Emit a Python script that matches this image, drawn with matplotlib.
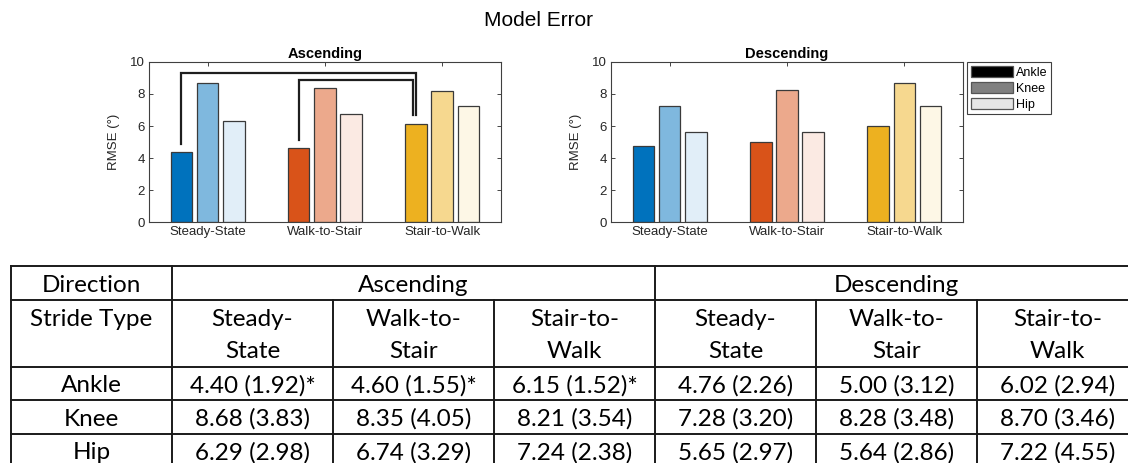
import numpy as np
import matplotlib.pyplot as plt
from matplotlib.patches import Patch

# Data
categories = ['Steady-State', 'Walk-to-Stair', 'Stair-to-Walk']
joints = ['Ankle', 'Knee', 'Hip']

asc_ankle = [4.40, 4.60, 6.15]
asc_knee = [8.68, 8.35, 8.21]
asc_hip = [6.29, 6.74, 7.24]
asc_ankle_sd = [1.92, 1.55, 1.52]
asc_knee_sd = [3.83, 4.05, 3.54]
asc_hip_sd = [2.98, 3.29, 2.38]
asc_ankle_sig = [True, True, True]

desc_ankle = [4.76, 5.00, 6.02]
desc_knee = [7.28, 8.28, 8.70]
desc_hip = [5.65, 5.64, 7.22]
desc_ankle_sd = [2.26, 3.12, 2.94]
desc_knee_sd = [3.20, 3.48, 3.46]
desc_hip_sd = [2.97, 2.86, 4.55]

# significance brackets on ascending ankle: (from category, to category, bracket height)
asc_brackets = [(0, 2, 9.3), (1, 2, 8.9)]

# colours: one row per stride type, columns ankle / knee / hip
shades = [['#0072BD', '#7FB8DE', '#E1EEF8'],
          ['#D95319', '#ECA98C', '#FBEAE3'],
          ['#EDB120', '#F6D88F', '#FDF7E6']]
legend_colors = ['#000000', '#808080', '#E6E6E6']

plt.rcParams['font.family'] = ['Liberation Sans', 'DejaVu Sans']

fig = plt.figure(figsize=(11.28, 4.63), dpi=100)

offset = 0.223
bar_w = 0.184


def bar_panel(ax, ankle, knee, hip, title):
    x = np.arange(1, len(categories) + 1)
    for j, vals in enumerate([ankle, knee, hip]):
        ax.bar(x + (j - 1) * offset, vals, width=bar_w,
               color=[shades[g][j] for g in range(len(categories))],
               edgecolor='#3a3a3a', linewidth=0.9, zorder=2)
    ax.set_xlim(0.5, 3.5)
    ax.set_ylim(0, 10)
    ax.set_xticks(x, categories)
    ax.set_yticks(range(0, 11, 2))
    ax.tick_params(direction='in', length=3, width=0.6, top=True, right=True,
                   labelsize=9.5, colors='#262626', pad=3)
    for s in ax.spines.values():
        s.set_color('#404040')
        s.set_linewidth(0.8)
    ax.set_ylabel('RMSE (°)', fontsize=9.5, color='#262626', labelpad=7)
    ax.set_title(title, fontweight='bold', fontsize=10.5, pad=3)


ax1 = fig.add_axes([0.132, 0.5205, 0.312, 0.3456])
ax2 = fig.add_axes([0.5417, 0.5205, 0.312, 0.3456])
bar_panel(ax1, asc_ankle, asc_knee, asc_hip, 'Ascending')
bar_panel(ax2, desc_ankle, desc_knee, desc_hip, 'Descending')

# significance brackets
for k, (i0, i1, top) in enumerate(asc_brackets):
    xa = i0 + 1 - offset
    xb = i1 + 1 - offset - 0.025 * k
    ax1.plot([xa, xa, xb, xb],
             [asc_ankle[i0] + 0.5, top, top, asc_ankle[i1] + 0.55],
             color='#1e1e1e', lw=1.6, solid_joinstyle='miter', zorder=3)

handles = [Patch(facecolor=c, edgecolor='#555555', linewidth=0.9) for c in legend_colors]
leg = ax2.legend(handles, joints, loc='upper left', bbox_to_anchor=(1.011, 1.0),
                 fontsize=9, handlelength=3.4, handleheight=1.0, handletextpad=0.2,
                 labelspacing=0.25, borderpad=0.3, borderaxespad=0, fancybox=False,
                 framealpha=1)
leg.get_frame().set_edgecolor('#404040')
leg.get_frame().set_linewidth(0.8)

fig.text(0.477, 0.955, 'Model Error', ha='center', va='center', fontsize=15)

# Table
tab = fig.add_axes([0, 0, 1, 1], zorder=-1)
tab.set_xlim(0, 1128)
tab.set_ylim(463, 0)
tab.axis('off')

x0 = 11
col_w = 161
n_cols = 1 + 2 * len(categories)
row_edges = [266, 300, 367, 400, 434, 467]
col_edges = [x0 + i * col_w for i in range(n_cols + 1)]
line_kw = dict(color='#1a1a1a', lw=1.4)
tfont = dict(family=['Lato', 'DejaVu Sans'], fontsize=17.5, color='black',
             ha='center', va='center')

for y in row_edges:
    tab.plot([col_edges[0], col_edges[-1]], [y, y], **line_kw)
for i, xe in enumerate(col_edges):
    y_start = row_edges[0] if i in (0, 1, 4, 7) else row_edges[1]
    tab.plot([xe, xe], [y_start, row_edges[-1]], **line_kw)


def cx(i):
    return (col_edges[i] + col_edges[i + 1]) / 2


def rc(r):
    return (row_edges[r] + row_edges[r + 1]) / 2 + 2


tab.text(cx(0), rc(0), 'Direction', **tfont)
tab.text((col_edges[1] + col_edges[4]) / 2, rc(0), 'Ascending', **tfont)
tab.text((col_edges[4] + col_edges[7]) / 2, rc(0), 'Descending', **tfont)

line1 = row_edges[1] + 19
line2 = row_edges[1] + 51
tab.text(cx(0), line1, 'Stride Type', **tfont)
for d in range(2):
    for g, c in enumerate(categories):
        cut = c.rfind('-') + 1
        col = 1 + 3 * d + g
        tab.text(cx(col), line1, c[:cut], **tfont)
        tab.text(cx(col), line2, c[cut:], **tfont)

asc_rows = [(asc_ankle, asc_ankle_sd, asc_ankle_sig),
            (asc_knee, asc_knee_sd, [False] * 3),
            (asc_hip, asc_hip_sd, [False] * 3)]
desc_rows = [(desc_ankle, desc_ankle_sd, [False] * 3),
             (desc_knee, desc_knee_sd, [False] * 3),
             (desc_hip, desc_hip_sd, [False] * 3)]

for r, name in enumerate(joints):
    tab.text(cx(0), rc(r + 2), name, **tfont)
    for d, rows in enumerate([asc_rows, desc_rows]):
        means, sds, sig = rows[r]
        for g in range(len(categories)):
            s = f'{means[g]:.2f} ({sds[g]:.2f})' + ('*' if sig[g] else '')
            tab.text(cx(1 + 3 * d + g), rc(r + 2), s, **tfont)

fig.savefig('out.png', dpi=100)
